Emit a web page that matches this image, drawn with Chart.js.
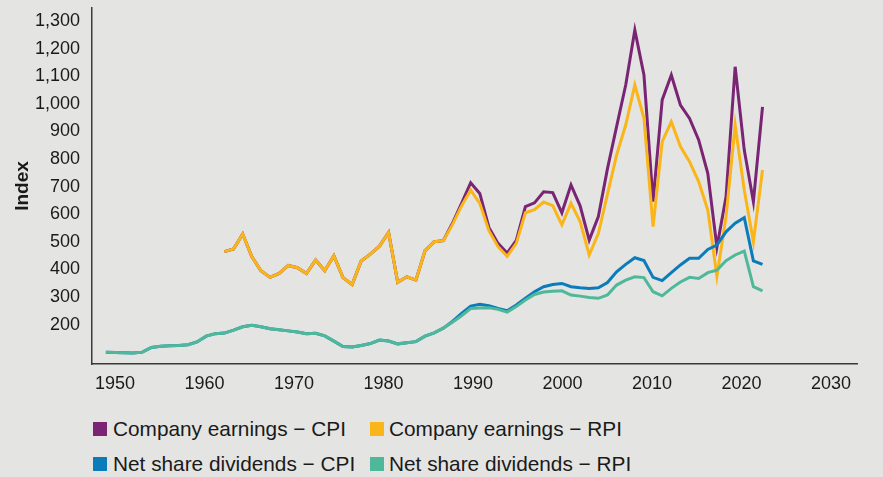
<!DOCTYPE html>
<html>
<head>
<meta charset="utf-8">
<script src="https://cdn.jsdelivr.net/npm/chart.js@4.4.1/dist/chart.umd.min.js"></script>
<style>
  html, body { margin: 0; padding: 0; background: #e4e4e2; }
  #wrap { position: relative; width: 883px; height: 477px; overflow: hidden; background: #e4e4e2; }
  #c { position: absolute; left: 0; top: 0; }
  .lg { position: absolute; font-family: "Liberation Sans", Arial, sans-serif; font-size: 20.8px; line-height: 20px; color: #1a1a1a; white-space: nowrap; }
  .sq { position: absolute; width: 14px; height: 14px; }
</style>
</head>
<body>
<div id="wrap">
  <canvas id="c" width="883" height="400"></canvas>
  <div class="sq" style="left:93px;top:422px;background:#792574"></div>
  <div class="lg" style="left:113px;top:419px">Company earnings − CPI</div>
  <div class="sq" style="left:370px;top:422px;background:#fab519"></div>
  <div class="lg" style="left:389px;top:419px">Company earnings − RPI</div>
  <div class="sq" style="left:93px;top:457px;background:#0a7cba"></div>
  <div class="lg" style="left:113px;top:454px">Net share dividends − CPI</div>
  <div class="sq" style="left:370px;top:457px;background:#50b89a"></div>
  <div class="lg" style="left:389px;top:454px">Net share dividends − RPI</div>
</div>
<script>
const years = [];
for (let y = 1949; y <= 2021; y++) years.push(y);

const seriesNames = ["Company earnings − CPI", "Company earnings − RPI", "Net share dividends − CPI", "Net share dividends − RPI"];

// 1949-1961 have no earnings data (null)
const earningsCPI = [
  null,null,null,null,null,null,null,null,null,null,null,null,null,
  464,474,528,446,395,371,385,414,406,385,434,395,449,370,345,430,455,484,534,353,373,361,468,500,504,
  567,639,714,675,552,494,459,505,627,641,681,678,605,706,630,506,591,765,917,1068,1267,1104,645,1014,1104,995,947,869,748,480,663,1134,832,645,989
];
const earningsRPI = [
  null,null,null,null,null,null,null,null,null,null,null,null,null,
  464,474,528,446,395,371,385,414,406,385,434,395,449,370,345,430,455,484,534,353,373,361,468,500,504,
  562,630,687,639,540,482,447,494,605,616,644,631,561,639,573,452,530,672,814,923,1068,947,555,863,935,845,790,718,615,375,591,923,687,500,760
];
const dividendsCPI = [
  100,99,98,97,100,117,121,123,124,127,137,158,167,169,180,192,197,192,185,181,177,173,167,168,159,140,120,119,124,131,144,140,130,134,138,158,170,187,
  211,240,267,273,268,258,250,271,295,319,337,345,349,337,333,331,333,352,391,418,442,432,371,359,388,416,440,440,472,488,536,567,587,431,418
];
const dividendsRPI = [
  100,99,98,97,100,117,121,123,124,127,137,158,167,169,180,192,197,192,185,181,177,173,167,168,159,140,120,119,124,131,144,140,130,134,138,158,170,187,
  208,232,258,260,261,255,245,265,289,309,318,321,322,307,303,298,295,307,343,361,373,370,319,304,331,354,371,367,388,397,431,452,466,337,322
];

const xTickYears = [1950, 1960, 1970, 1980, 1990, 2000, 2010, 2020, 2030];
const yTickValues = [200, 300, 400, 500, 600, 700, 800, 900, 1000, 1100, 1200, 1300];

const colors = ["#792574", "#fab519", "#0a7cba", "#50b89a"];
const values = [earningsCPI, earningsRPI, dividendsCPI, dividendsRPI];
const drawOrder = [4, 3, 2, 1];

const datasets = values.map((arr, i) => ({
  label: seriesNames[i],
  data: years.map((yr, k) => ({ x: yr, y: arr[k] })),
  borderColor: colors[i],
  backgroundColor: colors[i],
  borderWidth: 3,
  pointRadius: 0,
  tension: 0,
  spanGaps: false,
  order: drawOrder[i],
  xAxisID: 'x',
  yAxisID: 'y'
}));

const fontFam = "'Liberation Sans', Arial, sans-serif";
const tickFont = { family: fontFam, size: 18 };

new Chart(document.getElementById('c'), {
  type: 'line',
  data: { datasets },
  options: {
    responsive: false,
    animation: false,
    devicePixelRatio: 1,
    layout: { padding: { top: 8, right: 26, left: 0, bottom: 0 } },
    plugins: { legend: { display: false }, tooltip: { enabled: false } },
    scales: {
      x: {
        type: 'linear',
        display: false,
        min: 1947.48,
        max: 2031.36
      },
      xl: {
        type: 'linear',
        axis: 'x',
        position: 'bottom',
        min: 1947.43,
        max: 2032.9,
        afterBuildTicks: s => { s.ticks = xTickYears.map(v => ({ value: v })); },
        afterFit: s => { s.height = 36; s.paddingLeft = 0; s.paddingRight = 0; },
        grid: { display: false, drawTicks: false },
        border: { display: true, color: '#3a3a3a', width: 1.5 },
        ticks: { font: tickFont, color: '#1a1a1a', padding: 9, maxRotation: 0, autoSkip: false, callback: v => String(v) }
      },
      y: {
        type: 'linear',
        min: 57,
        max: 1347,
        afterBuildTicks: s => { s.ticks = yTickValues.map(v => ({ value: v })); },
        afterFit: s => { s.width = 92; s.paddingTop = 0; s.paddingBottom = 0; },
        grid: { display: false, drawTicks: false },
        border: { display: true, color: '#3a3a3a', width: 1.5 },
        title: { display: true, text: 'Index', color: '#1a1a1a', font: { family: fontFam, size: 19, weight: 'bold' }, padding: { top: 11, bottom: 0 } },
        ticks: { font: tickFont, color: '#1a1a1a', padding: 12, autoSkip: false, callback: v => Number(v).toLocaleString('en-US') }
      }
    }
  }
});
</script>
</body>
</html>
